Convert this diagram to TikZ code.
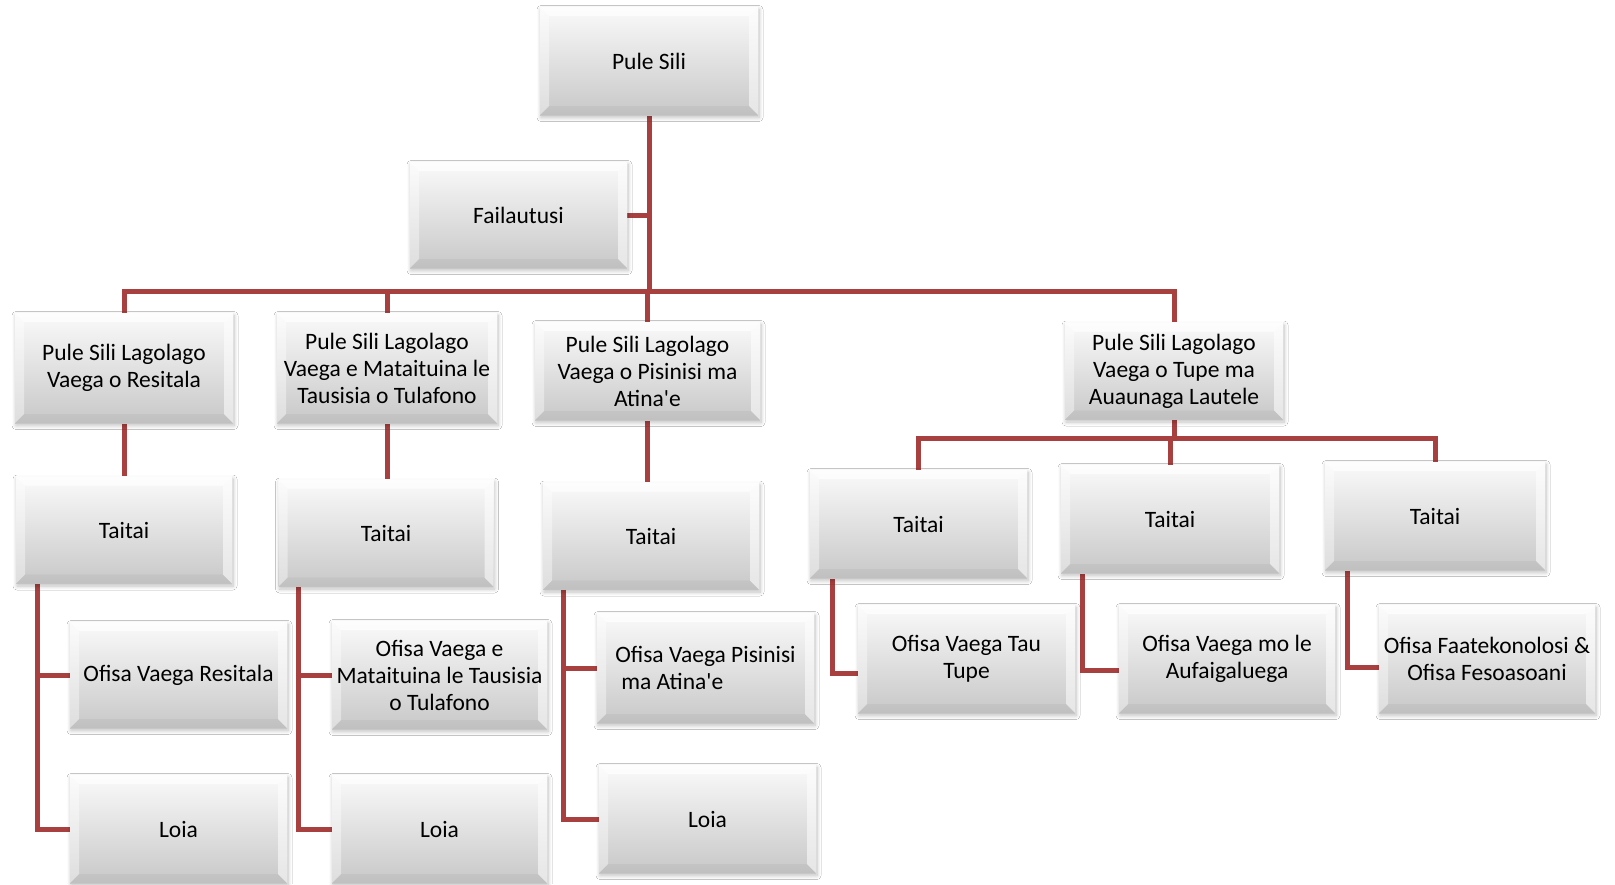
\documentclass[tikz,border=0pt]{standalone}
\usepackage{fontspec}
\setmainfont{Carlito}[Ligatures=TeXOff]
\usetikzlibrary{shadows.blur,backgrounds}
\definecolor{conncol}{RGB}{168,64,64}
\definecolor{boxtop}{RGB}{250,250,250}
\definecolor{boxbot}{RGB}{200,200,200}
\tikzset{
  orgbox/.style={rectangle, inner sep=0pt, align=center,
    top color=boxtop, bottom color=boxbot, draw=none,
    font=\fontsize{23.5}{27}\selectfont,
    blur shadow={shadow xshift=1pt, shadow yshift=-2.5pt, shadow blur steps=8, shadow blur radius=4pt, shadow opacity=25},
    path picture={
      \fill[white,opacity=0.7] (path picture bounding box.north west) -- (path picture bounding box.north east)
        -- ([xshift=-9pt,yshift=-9pt]path picture bounding box.north east) -- ([xshift=9pt,yshift=-9pt]path picture bounding box.north west) -- cycle;
      \fill[white,opacity=0.4] (path picture bounding box.north west) -- ([xshift=9pt,yshift=-9pt]path picture bounding box.north west)
        -- ([xshift=9pt,yshift=9pt]path picture bounding box.south west) -- (path picture bounding box.south west) -- cycle;
      \fill[white,opacity=0.55] (path picture bounding box.north east) -- ([xshift=-9pt,yshift=-9pt]path picture bounding box.north east)
        -- ([xshift=-9pt,yshift=9pt]path picture bounding box.south east) -- (path picture bounding box.south east) -- cycle;
      \fill[black,opacity=0.04] (path picture bounding box.south west) -- ([xshift=9pt,yshift=9pt]path picture bounding box.south west)
        -- ([xshift=-9pt,yshift=9pt]path picture bounding box.south east) -- (path picture bounding box.south east) -- cycle;
    }},
  conn/.style={draw=conncol, line width=5pt, line cap=rect, line join=miter}
}
\begin{document}
\begin{tikzpicture}[x=1pt,y=-1pt]
\useasboundingbox (0,0) rectangle (1615,884);

% top
\node[orgbox, minimum width=218pt, minimum height=108pt] (ps) at (649,61) {Pule Sili};
\node[orgbox, minimum width=217pt, minimum height=106pt] (fail) at (518.5,215) {Failautusi};

% level 2
\node[orgbox, minimum width=218pt, minimum height=110pt] (A2) at (124,368) {Pule Sili Lagolago\\Vaega o Resitala};
\node[orgbox, minimum width=220pt, minimum height=110pt] (B2) at (387,368) {Pule Sili Lagolago\\Vaega e Mataituina le\\Tausisia o Tulafono};
\node[orgbox, minimum width=225pt, minimum height=98pt] (C2) at (647.5,371) {Pule Sili Lagolago\\Vaega o Pisinisi ma\\Atina'e};
\node[orgbox, minimum width=218pt, minimum height=97pt] (D2) at (1174,371) {Pule Sili Lagolago\\Vaega o Tupe ma\\Auaunaga Lautele};

% Taitai
\node[orgbox, minimum width=216pt, minimum height=107pt] (TA) at (124,530) {Taitai};
\node[orgbox, minimum width=215pt, minimum height=107pt] (TB) at (386,533) {Taitai};
\node[orgbox, minimum width=216pt, minimum height=107pt] (TC) at (651,536) {Taitai};
\node[orgbox, minimum width=217pt, minimum height=108pt] (TD1) at (918.5,524) {Taitai};
\node[orgbox, minimum width=218pt, minimum height=108pt] (TD2) at (1170,519) {Taitai};
\node[orgbox, minimum width=220pt, minimum height=108pt] (TD3) at (1435,516) {Taitai};

% Ofisa
\node[orgbox, minimum width=217pt, minimum height=106pt] (OA) at (178.5,675) {Ofisa Vaega Resitala};
\node[orgbox, minimum width=215pt, minimum height=108pt] (OB) at (439.5,675) {Ofisa Vaega e\\Mataituina le Tausisia\\o Tulafono};
\node[orgbox, minimum width=217pt, minimum height=110pt, align=left] (OC) at (705.5,668) {Ofisa Vaega Pisinisi\\\hspace*{6pt}ma Atina'e};
\node[orgbox, minimum width=217pt, minimum height=108pt] (OD1) at (966.5,659) {Ofisa Vaega Tau\\Tupe};
\node[orgbox, minimum width=216pt, minimum height=108pt] (OD2) at (1227,659) {Ofisa Vaega mo le\\Aufaigaluega};
\node[orgbox, minimum width=216pt, minimum height=108pt] (OD3) at (1487,659) {Ofisa Faatekonolosi \&\\Ofisa Fesoasoani};

% Loia
\node[orgbox, minimum width=217pt, minimum height=108pt] (LA) at (178.5,829) {Loia};
\node[orgbox, minimum width=215pt, minimum height=108pt] (LB) at (439.5,829) {Loia};
\node[orgbox, minimum width=217pt, minimum height=108pt] (LC) at (707.5,819) {Loia};

\coordinate (bus) at (649,291);
\coordinate (dbus) at (1174,438);

\begin{scope}[on background layer]
  \fill[white] (0,0) rectangle (1615,884);
  \draw[conn] (ps.south) -- (bus);
  \draw[conn] (fail.east) -- (fail.east -| ps.south);
  \draw[conn] (A2.north) |- (bus) -| (D2.north);
  \draw[conn] (B2.north) -- (B2.north |- bus);
  \draw[conn] (C2.north) -- (C2.north |- bus);

  \draw[conn] (A2.south) -- (TA.north);
  \draw[conn] (B2.south) -- (B2.south |- TB.north);
  \draw[conn] (C2.south) -- (C2.south |- TC.north);

  \draw[conn] (D2.south) -- (D2.south |- dbus);
  \draw[conn] (TD1.north) |- (dbus) -| (TD3.north);
  \draw[conn] (TD2.north) -- (TD2.north |- dbus);

  \draw[conn] ([xshift=22pt]TA.south west) |- (OA.west);
  \draw[conn] ([xshift=22pt]TA.south west) |- (LA.west);
  \draw[conn] ([xshift=20pt]TB.south west) |- (OB.west);
  \draw[conn] ([xshift=20pt]TB.south west) |- (LB.west);
  \draw[conn] ([xshift=21pt]TC.south west) |- (OC.west);
  \draw[conn] ([xshift=21pt]TC.south west) |- (LC.west);
  \draw[conn] ([xshift=23pt]TD1.south west) |- ([yshift=-14pt]OD1.west);
  \draw[conn] ([xshift=22pt]TD2.south west) |- ([yshift=-11pt]OD2.west);
  \draw[conn] ([xshift=23pt]TD3.south west) |- ([yshift=-8pt]OD3.west);
\end{scope}
\end{tikzpicture}
\end{document}
